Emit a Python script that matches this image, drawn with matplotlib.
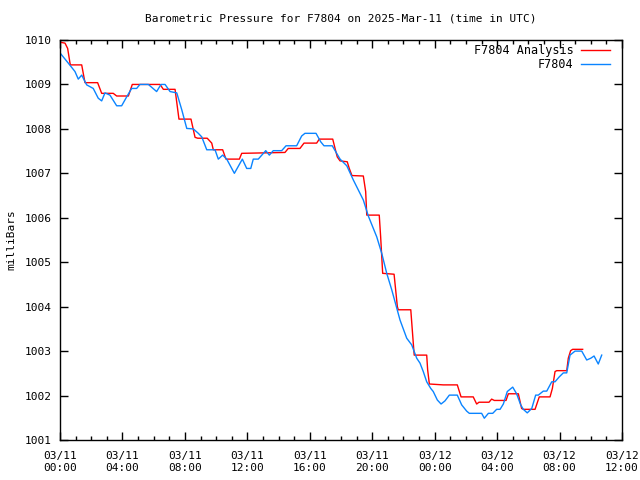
import datetime as dt
import matplotlib
matplotlib.use('Agg')
import matplotlib.pyplot as plt
import matplotlib.dates as mdates

# hours after 2025-03-11 00:00 UTC, pressure in milliBars
obs_hours = [0.00, 0.53, 0.96, 1.17, 1.39, 1.71, 2.13, 2.45, 2.67, 2.88, 3.20, 3.63, 3.95,
             4.27, 4.59, 4.91, 5.12, 5.66, 6.19, 6.47, 6.73, 7.05, 7.48, 7.80, 8.12, 8.54,
             8.86, 9.08, 9.40, 9.93, 10.14, 10.42, 10.68, 11.17, 11.68, 11.96, 12.22, 12.38,
             12.70, 13.18, 13.41, 13.66, 14.20, 14.48, 15.16, 15.48, 15.69, 16.40, 16.70,
             16.91, 17.44, 17.94, 18.37, 18.79, 19.43, 19.75, 20.29, 20.61, 20.93, 21.25,
             21.78, 22.21, 22.53, 22.85, 23.06, 23.27, 23.49, 23.75, 23.91, 24.17, 24.41,
             24.66, 24.94, 25.45, 25.73, 26.05, 26.22, 27.01, 27.18, 27.44, 27.72, 27.97,
             28.19, 28.40, 28.65, 29.00, 29.25, 29.51, 29.68, 29.93, 30.22, 30.47, 30.64,
             30.96, 31.18, 31.50, 31.71, 31.98, 32.24, 32.46, 32.67, 32.99, 33.42, 33.74,
             34.00, 34.21, 34.48, 34.70]
obs_press = [1009.71, 1009.48, 1009.29, 1009.12, 1009.21, 1008.99, 1008.91, 1008.69, 1008.63,
             1008.81, 1008.76, 1008.52, 1008.52, 1008.72, 1008.91, 1008.91, 1009.00, 1009.00,
             1008.84, 1009.00, 1009.00, 1008.84, 1008.81, 1008.43, 1008.01, 1008.00, 1007.90,
             1007.82, 1007.53, 1007.53, 1007.32, 1007.41, 1007.32, 1007.00, 1007.32, 1007.11,
             1007.11, 1007.32, 1007.32, 1007.51, 1007.41, 1007.51, 1007.51, 1007.62, 1007.62,
             1007.84, 1007.90, 1007.90, 1007.71, 1007.62, 1007.62, 1007.32, 1007.17, 1006.85,
             1006.40, 1006.04, 1005.57, 1005.20, 1004.75, 1004.38, 1003.70, 1003.29, 1003.14,
             1002.84, 1002.73, 1002.54, 1002.31, 1002.16, 1002.09, 1001.90, 1001.81, 1001.88,
             1002.01, 1002.01, 1001.79, 1001.65, 1001.60, 1001.60, 1001.49, 1001.60, 1001.60,
             1001.69, 1001.69, 1001.81, 1002.09, 1002.19, 1002.04, 1001.79, 1001.69, 1001.61,
             1001.71, 1002.01, 1002.01, 1002.10, 1002.10, 1002.31, 1002.31, 1002.42, 1002.51,
             1002.51, 1002.91, 1003.00, 1003.00, 1002.80, 1002.84, 1002.89, 1002.71, 1002.91]

ana_hours = [0.00, 0.32, 0.49, 0.64, 0.67, 1.39, 1.60, 2.41, 2.67, 3.41, 3.63, 4.38, 4.63,
             6.41, 6.62, 7.37, 7.62, 8.39, 8.65, 8.82, 9.43, 9.72, 9.82, 10.42, 10.63, 11.49,
             11.64, 14.41, 14.62, 15.37, 15.63, 16.44, 16.61, 17.47, 17.62, 17.76, 17.94,
             18.40, 18.53, 18.70, 19.43, 19.58, 19.65, 20.45, 20.54, 20.67, 21.40, 21.61,
             21.67, 22.47, 22.63, 22.69, 23.49, 23.55, 23.66, 24.55, 25.45, 25.69, 26.47,
             26.69, 26.84, 27.48, 27.65, 27.82, 28.57, 28.72, 29.36, 29.57, 29.68, 30.43,
             30.70, 31.39, 31.54, 31.71, 31.82, 32.46, 32.56, 32.71, 32.84, 33.48]
ana_press = [1009.95, 1009.93, 1009.81, 1009.48, 1009.44, 1009.44, 1009.04, 1009.04, 1008.80,
             1008.80, 1008.74, 1008.74, 1009.00, 1009.00, 1008.89, 1008.89, 1008.22, 1008.22,
             1007.81, 1007.79, 1007.79, 1007.68, 1007.53, 1007.53, 1007.32, 1007.32, 1007.45,
             1007.47, 1007.56, 1007.56, 1007.68, 1007.68, 1007.77, 1007.77, 1007.56, 1007.37,
             1007.28, 1007.26, 1007.11, 1006.95, 1006.94, 1006.59, 1006.06, 1006.06, 1005.57,
             1004.75, 1004.73, 1004.00, 1003.93, 1003.93, 1003.18, 1002.91, 1002.91, 1002.58,
             1002.26, 1002.24, 1002.24, 1001.97, 1001.97, 1001.81, 1001.85, 1001.85, 1001.92,
             1001.89, 1001.89, 1002.04, 1002.04, 1001.71, 1001.69, 1001.69, 1001.97, 1001.97,
             1002.16, 1002.54, 1002.56, 1002.56, 1002.84, 1003.01, 1003.04, 1003.04]

start = dt.datetime(2025, 3, 11, 0, 0)
obs_t = [start + dt.timedelta(hours=h) for h in obs_hours]
ana_t = [start + dt.timedelta(hours=h) for h in ana_hours]

plt.rcParams['font.family'] = 'DejaVu Sans Mono'
plt.rcParams['font.size'] = 8

fig = plt.figure(figsize=(6.4, 4.8), dpi=100)
ax = fig.add_axes([60 / 640, 40 / 480, 562 / 640, 400 / 480])

ax.plot(ana_t, ana_press, color='#ff0000', lw=1.0, label='F7804 Analysis')
ax.plot(obs_t, obs_press, color='#0a84ff', lw=1.0, label='F7804')

ax.set_xlim(start, start + dt.timedelta(hours=36))
ax.set_ylim(1001, 1010)
ax.set_yticks(range(1001, 1011))
ax.xaxis.set_major_locator(mdates.HourLocator(interval=4))
ax.xaxis.set_minor_locator(mdates.HourLocator(interval=1))
ax.xaxis.set_major_formatter(mdates.DateFormatter('%m/%d\n%H:%M'))

ax.tick_params(which='both', direction='in', top=True, right=True, width=1.0, colors='black')
ax.tick_params(which='major', length=6, pad=6)
ax.tick_params(axis='x', which='major', pad=8)
ax.tick_params(which='minor', length=3)
for s in ax.spines.values():
    s.set_linewidth(1.0)

ax.set_title('Barometric Pressure for F7804 on 2025-Mar-11 (time in UTC)', fontsize=8, pad=13)
ax.set_ylabel('milliBars', labelpad=6)

ax.legend(loc='upper right', bbox_to_anchor=(0.9786, 0.99), frameon=False, markerfirst=False,
          handlelength=2.45, handletextpad=0.65, labelspacing=0.08, borderpad=0,
          borderaxespad=0, fontsize=8.5)

fig.savefig('out.png', dpi=100)
